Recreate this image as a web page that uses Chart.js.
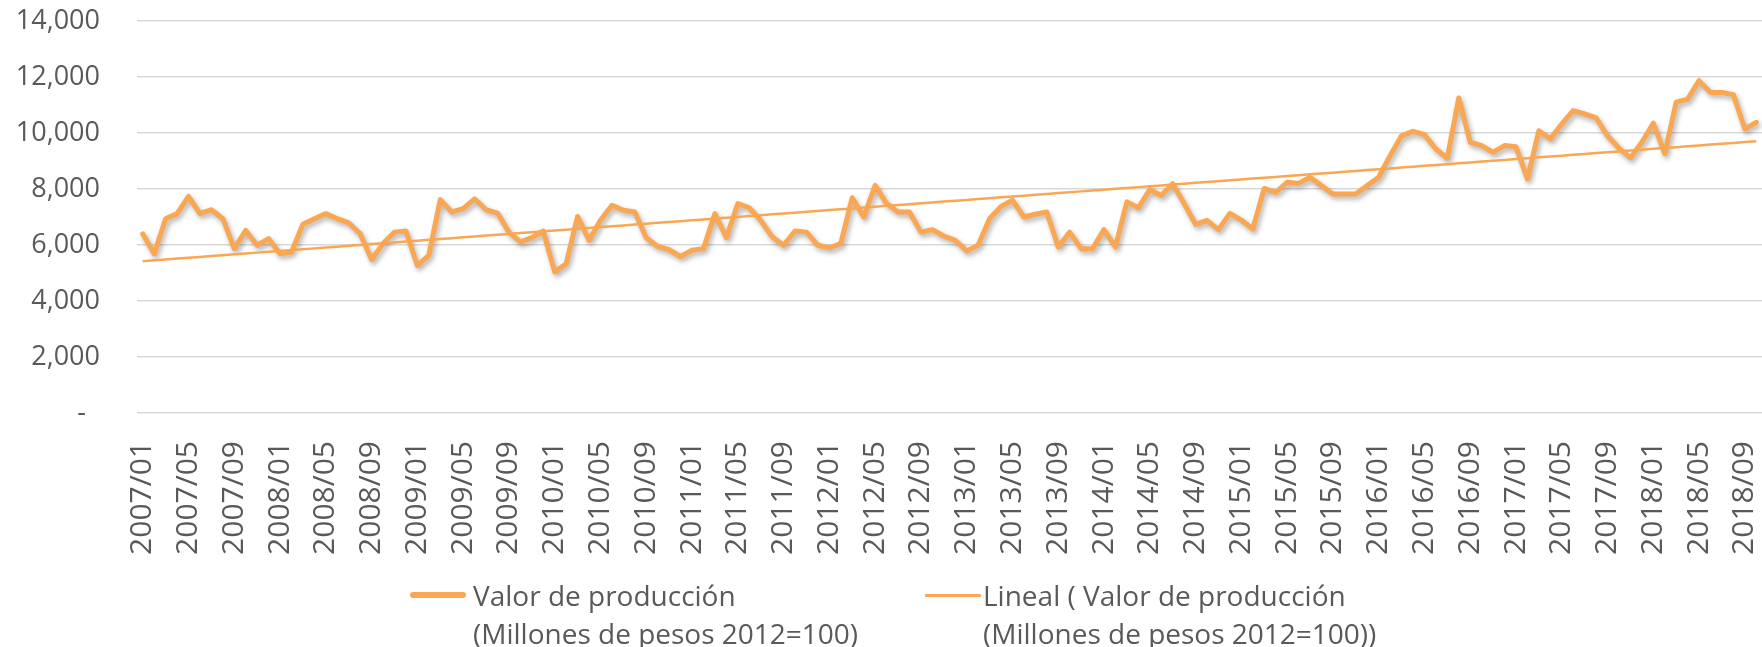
<!DOCTYPE html>
<html>
<head>
<meta charset="utf-8">
<script src="https://cdn.jsdelivr.net/npm/chart.js@4.4.1/dist/chart.umd.min.js"></script>
<style>
  html, body { margin: 0; padding: 0; background: #fff; }
  #wrap { position: relative; width: 1762px; height: 647px; }
  #chart { position: absolute; left: 0; top: 0; }
  .legend-item { position: absolute; color: #595959; font-family: 'Open Sans', sans-serif; font-size: 28px; line-height: 38px; }
  .legend-item .swatch { position: absolute; background: #F9A752; border-radius: 3px; }
  .legend-item .txt { position: absolute; white-space: nowrap; }
</style>
</head>
<body>
<div id="wrap">
  <canvas id="chart" width="1762" height="647"></canvas>
  <div class="legend-item" style="left:0; top:0;">
    <div class="swatch" style="left:410px; top:592px; width:56px; height:6px;"></div>
    <div class="txt" style="left:473px; top:576px;">Valor de producción<br>(Millones de pesos 2012=100)</div>
  </div>
  <div class="legend-item" style="left:0; top:0;">
    <div class="swatch" style="left:925px; top:594px; width:56px; height:3px; border-radius:1px;"></div>
    <div class="txt" style="left:983px; top:576px;">Lineal ( Valor de producción<br>(Millones de pesos 2012=100))</div>
  </div>
</div>
<script>
document.addEventListener("DOMContentLoaded", () => {
  /* =========================
     DATA
  ========================= */
  const START_YEAR = 2007;
  const N_MONTHS = 142; // 2007/01 .. 2018/10

  // Valor de producción (Millones de pesos 2012=100), monthly
  const valores2007_2008 = [6400, 5690, 6940, 7120, 7740, 7120, 7260, 6940, 5870, 6520, 5990, 6230,
                            5690, 5750, 6740, 6940, 7120, 6940, 6790, 6400, 5480, 6050, 6460, 6500];
  const valores2009_2010 = [5270, 5630, 7620, 7180, 7300, 7650, 7260, 7140, 6460, 6110, 6260, 6500,
                            5040, 5330, 7020, 6170, 6880, 7420, 7240, 7180, 6260, 5950, 5830, 5590];
  const valores2011_2012 = [5810, 5870, 7120, 6260, 7480, 7330, 6880, 6290, 5990, 6500, 6460, 5990,
                            5900, 6050, 7690, 7000, 8130, 7480, 7180, 7180, 6460, 6550, 6320, 6170];
  const valores2013_2014 = [5790, 5990, 6940, 7380, 7600, 7000, 7100, 7180, 5930, 6460, 5870, 5870,
                            6550, 5930, 7540, 7330, 7980, 7770, 8190, 7480, 6740, 6880, 6550, 7130];
  const valores2015_2016 = [6890, 6570, 8020, 7880, 8240, 8200, 8420, 8120, 7820, 7820, 7820, 8120,
                            8420, 9190, 9900, 10060, 9940, 9430, 9100, 11250, 9670, 9550, 9310, 9550];
  const valores2017_2018 = [9510, 8360, 10080, 9790, 10320, 10800, 10680, 10540, 9900, 9460, 9110, 9670,
                            10350, 9260, 11100, 11210, 11870, 11450, 11450, 11370, 10140, 10380];

  const valores = [].concat(valores2007_2008, valores2009_2010, valores2011_2012,
                            valores2013_2014, valores2015_2016, valores2017_2018);

  const Y_TICKS = [0, 2000, 4000, 6000, 8000, 10000, 12000, 14000];

  const labels = [];
  for (let i = 0; i < N_MONTHS; i++) {
    const y = START_YEAR + Math.floor(i / 12);
    const m = (i % 12) + 1;
    labels.push(`${y}/${m < 10 ? "0" + m : m}`);
  }

  /* =========================
     HELPERS
  ========================= */
  // least squares trend line, like the spreadsheet "Lineal" trendline
  function linearTrend(arr) {
    const n = arr.length;
    let sx = 0, sy = 0, sxx = 0, sxy = 0;
    arr.forEach((v, i) => { sx += i; sy += v; sxx += i * i; sxy += i * v; });
    const b = (n * sxy - sx * sy) / (n * sxx - sx * sx);
    const a = (sy - b * sx) / n;
    return arr.map((v, i) => a + b * i);
  }

  const ORANGE = "#F9A752";
  const TEXT = "#595959";

  const shadowPlugin = {
    id: "lineShadow",
    beforeDatasetDraw(chart, args) {
      if (args.index !== 0) return;
      const ctx = chart.ctx;
      ctx.save();
      ctx.shadowColor = "rgba(0,0,0,0.30)";
      ctx.shadowBlur = 5;
      ctx.shadowOffsetX = 2;
      ctx.shadowOffsetY = 3;
    },
    afterDatasetDraw(chart, args) {
      if (args.index !== 0) return;
      chart.ctx.restore();
    }
  };

  /* =========================
     CHART
  ========================= */
  const ctx = document.getElementById("chart").getContext("2d");
  new Chart(ctx, {
    type: "line",
    data: {
      labels,
      datasets: [
        {
          label: "Valor de producción (Millones de pesos 2012=100)",
          data: valores,
          borderColor: ORANGE,
          borderWidth: 5,
          borderJoinStyle: "round",
          borderCapStyle: "round",
          pointRadius: 0,
          tension: 0,
          order: 1
        },
        {
          label: "Lineal ( Valor de producción (Millones de pesos 2012=100))",
          data: linearTrend(valores),
          borderColor: ORANGE,
          borderWidth: 2.5,
          pointRadius: 0,
          tension: 0,
          order: 0
        }
      ]
    },
    options: {
      responsive: false,
      animation: false,
      layout: { padding: { left: 0, right: 0, top: 21, bottom: 0 } },
      plugins: { legend: { display: false }, tooltip: { enabled: false } },
      scales: {
        x: {
          offset: true,
          // fixed axis box so the plot area sits where the reference has it
          afterFit: scale => { scale.height = 234; scale.paddingLeft = 0; scale.paddingRight = 0; },
          grid: { display: false },
          border: { display: false },
          ticks: {
            autoSkip: false,
            maxRotation: 90,
            minRotation: 90,
            padding: 20,
            color: TEXT,
            font: { family: "'Open Sans'", size: 30 },
            callback: (v, i) => (i % 4 === 0 ? labels[i] : null)
          }
        },
        y: {
          min: 0,
          max: 14000,
          afterFit: scale => { scale.width = 137; scale.paddingTop = 0; scale.paddingBottom = 0; },
          afterBuildTicks: scale => { scale.ticks = Y_TICKS.map(v => ({ value: v })); },
          grid: { color: "#d9d9d9", lineWidth: 1.5, drawTicks: false },
          border: { display: false },
          ticks: {
            padding: 37,
            color: TEXT,
            font: { family: "'Open Sans'", size: 27 },
            callback: v => (v === 0 ? "-  " : v.toLocaleString("en-US"))
          }
        }
      }
    },
    plugins: [shadowPlugin]
  });
});
</script>
</body>
</html>
